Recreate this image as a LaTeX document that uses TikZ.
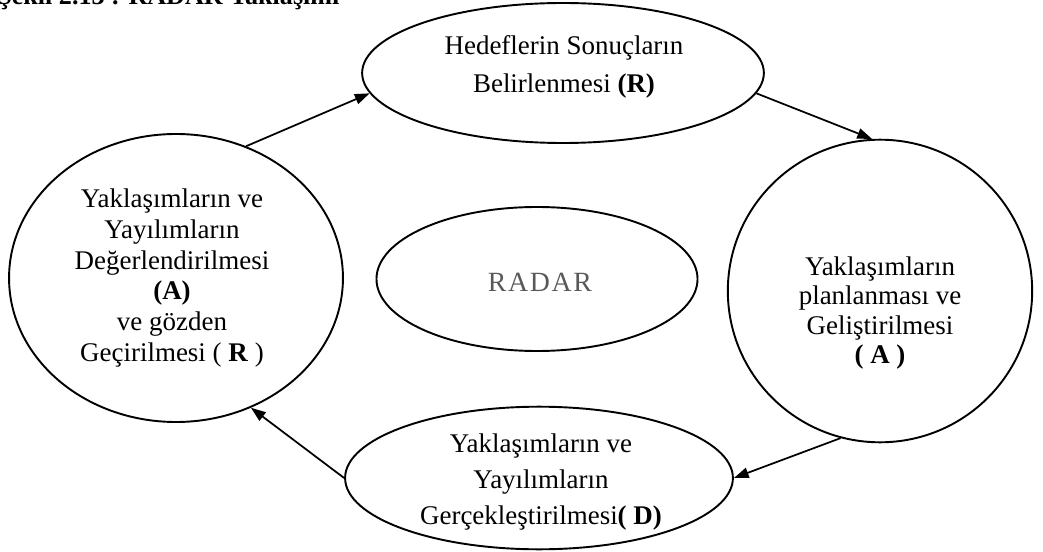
\documentclass[tikz,border=0pt]{standalone}
\usepackage{fontspec}
\setmainfont{Liberation Serif}
\newfontfamily\radarfont{Liberation Serif}[LetterSpace=6]
\usepackage{tikz}
\usetikzlibrary{arrows.meta, shapes.geometric}

\begin{document}
\begin{tikzpicture}[
  x=0.575pt, y=-0.575pt,
  oval/.style={draw, ellipse, line width=1.1pt, inner sep=0pt},
  txt/.style={align=center, inner sep=0pt,
              font=\fontsize{15.5pt}{17.8pt}\selectfont},
  arr/.style={-{Triangle[length=8.5pt, width=6pt]}, line width=1pt}
]
  \useasboundingbox (0,0) rectangle (1043,552);
  \clip (0,0) rectangle (1043,552);

  % title, cut off by the page edge
  \node[anchor=base west, inner sep=0pt, font=\fontsize{15pt}{16pt}\selectfont\bfseries]
    (title) at (-3,5) {Şekil 2.13 : RADAR Yaklaşımı};

  % the five ellipses
  \node[oval, minimum width=231pt, minimum height=80.5pt] (hedef) at (563,73) {};
  \node[oval, minimum width=175pt, minimum height=174pt] (plan) at (880,291) {};
  \node[oval, minimum width=223pt, minimum height=82pt] (gercek) at (539,478) {};
  \node[oval, minimum width=192pt, minimum height=165.6pt] (deger) at (176,278) {};
  \node[oval, minimum width=184.6pt, minimum height=82.8pt] (radar) at (537,279) {};

  % texts
  \node[txt, font=\fontsize{15.5pt}{21.5pt}\selectfont] (hedeftxt) at (564,67) {Hedeflerin Sonuçların\\Belirlenmesi \textbf{(R)}};
  \node[txt, font=\fontsize{15.5pt}{16.7pt}\selectfont] (plantxt) at (880,313) {Yaklaşımların\\planlanması ve\\Geliştirilmesi\\\textbf{( A )}};
  \node[txt, font=\fontsize{15.5pt}{20.5pt}\selectfont] (gercektxt) at (541,482) {Yaklaşımların ve\\Yayılımların\\Gerçekleştirilmesi\textbf{( D)}};
  \node[txt] (degertxt) at (172,278) {Yaklaşımların ve\\Yayılımların\\Değerlendirilmesi\\\textbf{(A)}\\ve gözden\\Geçirilmesi ( \textbf{R} )};
  \node[inner sep=0pt, text=black!65, font=\radarfont\fontsize{16pt}{18pt}\selectfont]
    (radartxt) at (540,282) {RADAR};

  % cycle
  \draw[arr] (deger.62) -- (hedef.186);
  \draw[arr] (hedef.-6) -- (plan.93);
  \draw[arr] (plan.-105) -- (gercek.east);
  \draw[arr] (gercek.west) -- (deger.-60);
\end{tikzpicture}
\end{document}
